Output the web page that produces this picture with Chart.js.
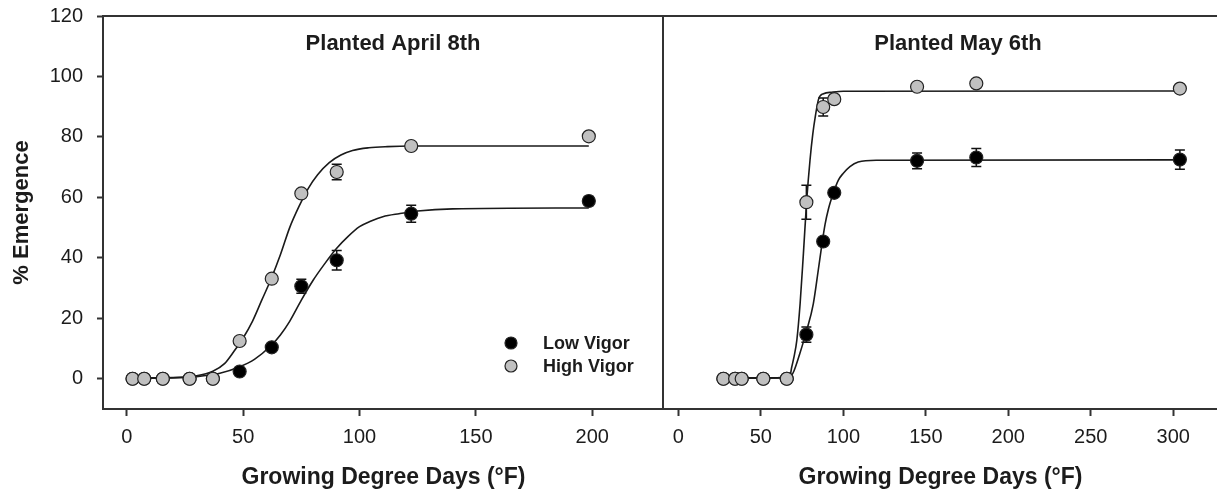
<!DOCTYPE html>
<html>
<head>
<meta charset="utf-8">
<title>% Emergence vs Growing Degree Days</title>
<script src="https://cdn.jsdelivr.net/npm/chart.js@4/dist/chart.umd.min.js"></script>
<style>
  html, body { margin: 0; padding: 0; background: #fff; }
  #wrap { position: relative; width: 1217px; height: 492px; overflow: hidden; }
  #cA { position: absolute; left: 0; top: 0; }
  #cB { position: absolute; left: 664px; top: 0; }
</style>
</head>
<body>
<div id="wrap">
  <canvas id="cA" width="664" height="492"></canvas>
  <canvas id="cB" width="553" height="492"></canvas>
</div>
<script>
const TEXT = '#1c1c1c';
const AXIS = '#333333';
const GREY = '#c0c0c0';
const FONT = '"Liberation Sans", Arial, Helvetica, sans-serif';

const yTicks = [0, 20, 40, 60, 80, 100, 120];
const aprilTicks = [0, 50, 100, 150, 200];
const mayTicks = [0, 50, 100, 150, 200, 250, 300];

// ── Planted April 8th ── observed means (± error)
const aprilDays    = [2.5, 7.5, 15.5, 27, 37, 48.5, 62.3, 75, 90.2, 122.2, 198.5];
const aprilLow     = [0, 0, 0, 0, 0, 2.4, 10.4, 30.6, 39.2, 54.6, 58.8];
const aprilLowErr  = [0, 0, 0, 0, 0, 0.8, 1, 2.3, 3.2, 2.8, 1.5];
const aprilHigh    = [0, 0, 0, 0, 0, 12.5, 33.1, 61.3, 68.4, 77, 80.2];
const aprilHighErr = [0, 0, 0, 0, 0, 0.8, 0.8, 1, 2.6, 0.8, 0.8];

// fitted curves
const aprilLowFitX  = [2.5, 20, 30, 40, 48, 55, 62, 66, 70, 75, 80, 85, 90, 95, 100, 105, 110, 117, 125, 140, 198.5];
const aprilLowFitY  = [0.2, 0.3, 0.7, 1.8, 3.8, 6.5, 11, 14.5, 19, 26, 32.5, 38, 43, 47, 50.3, 52.2, 53.6, 54.6, 55.5, 56.2, 56.5];
const aprilHighFitX = [2.5, 20, 30, 37, 42, 46, 50, 54, 58, 62, 66, 70, 74, 78, 82, 87, 92, 97, 104, 112, 122, 198.5];
const aprilHighFitY = [0.3, 0.4, 1, 2.5, 5, 9, 13.5, 19, 26, 33, 41, 50, 57, 63, 67.5, 71.5, 74, 75.5, 76.4, 76.8, 77, 77];

// ── Planted May 6th ──
const mayDays    = [27.3, 34.4, 38.4, 51.5, 65.7, 77.6, 87.8, 94.5, 144.7, 180.6, 304];
const mayLow     = [0, 0, 0, 0, 0, 14.6, 45.4, 61.5, 72.1, 73.2, 72.5];
const mayLowErr  = [0, 0, 0, 0, 0, 2.5, 1, 1, 2.6, 3, 3.2];
const mayHigh    = [0, 0, 0, 0, 0, 58.4, 89.9, 92.5, 96.6, 97.7, 96];
const mayHighErr = [0, 0, 0, 0, 0, 5.6, 3, 1, 1, 1, 1];

const mayLowFitX  = [27.3, 60, 65, 67.7, 70, 73.6, 77.8, 81.8, 84.8, 86.9, 88.9, 90.9, 94, 97, 100, 104, 109, 120, 304];
const mayLowFitY  = [0.2, 0.3, 0.4, 0.6, 2.5, 8.3, 16, 24.8, 35.9, 44, 51, 56, 61.5, 65.7, 68, 70.2, 71.7, 72.3, 72.4];
const mayHighFitX = [27.3, 60, 65, 67.7, 68.7, 70, 71.8, 73.8, 75.8, 77.8, 79.8, 81.5, 83, 85, 88, 93, 100, 304];
const mayHighFitY = [0.3, 0.3, 0.5, 1.1, 3.8, 7, 12.7, 24.8, 41.4, 59, 72.3, 81, 86.7, 92.5, 94.3, 94.8, 95.1, 95.2];

const pts = (xs, ys) => xs.map((x, i) => ({ x, y: ys[i] }));

Chart.defaults.font.family = FONT;
Chart.defaults.color = TEXT;
Chart.defaults.animation = false;

// keep the plot box exactly where the layout padding puts it
function noPad(s) {
  s.paddingLeft = 0; s.paddingRight = 0; s.paddingTop = 0; s.paddingBottom = 0;
}

// ── error bars, drawn under the markers ─────────────────────────
const errorBars = {
  id: 'errorBars',
  beforeDatasetsDraw(chart) {
    const { ctx } = chart;
    ctx.save();
    ctx.strokeStyle = '#111';
    ctx.lineWidth = 1.5;
    chart.data.datasets.forEach((ds, di) => {
      if (!ds.errors) return;
      const meta = chart.getDatasetMeta(di);
      const xs = chart.scales[meta.xAxisID];
      const ys = chart.scales[meta.yAxisID];
      ds.data.forEach((p, i) => {
        const e = ds.errors[i];
        if (!e) return;
        const x = xs.getPixelForValue(p.x);
        const y1 = ys.getPixelForValue(p.y + e);
        const y2 = ys.getPixelForValue(p.y - e);
        ctx.beginPath();
        ctx.moveTo(x, y1); ctx.lineTo(x, y2);
        ctx.moveTo(x - 5, y1); ctx.lineTo(x + 5, y1);
        ctx.moveTo(x - 5, y2); ctx.lineTo(x + 5, y2);
        ctx.stroke();
      });
    });
    ctx.restore();
  }
};

// ── frame, panel title, legend ──────────────────────────────────
const panel = {
  id: 'panel',
  afterDraw(chart, args, opts) {
    const { ctx, chartArea: a } = chart;
    ctx.save();
    ctx.strokeStyle = AXIS;
    ctx.lineWidth = 2;
    ctx.beginPath();
    ctx.moveTo(a.left - 1, a.top);
    ctx.lineTo(a.right, a.top);
    if (opts.divider) {
      ctx.moveTo(a.right - 1, a.top);
      ctx.lineTo(a.right - 1, a.bottom);
    }
    ctx.stroke();

    ctx.fillStyle = TEXT;
    ctx.font = `bold 22px ${FONT}`;
    ctx.textAlign = 'center';
    ctx.textBaseline = 'middle';
    ctx.fillText(opts.title, opts.titleX, a.top + 28);

    if (opts.legend) {
      const items = chart.data.datasets.filter(d => d.inLegend);
      items.forEach((d, i) => {
        const y = 343 + i * 23;
        ctx.beginPath();
        ctx.arc(511, y, 6, 0, Math.PI * 2);
        ctx.fillStyle = d.backgroundColor;
        ctx.fill();
        ctx.lineWidth = 1.2;
        ctx.strokeStyle = '#222';
        ctx.stroke();
        ctx.fillStyle = TEXT;
        ctx.font = `bold 18px ${FONT}`;
        ctx.textAlign = 'left';
        ctx.fillText(d.label, 543, y + 1);
      });
    }
    ctx.restore();
  }
};

function fitLine(data, xAxisID) {
  return {
    type: 'line', data, xAxisID,
    borderColor: '#1a1a1a', borderWidth: 1.6,
    pointRadius: 0, fill: false,
    cubicInterpolationMode: 'monotone',
    order: 3,
  };
}

function markers(label, data, errors, color, order) {
  return {
    type: 'scatter', label, data, errors,
    backgroundColor: color, borderColor: '#222', borderWidth: 1.2,
    pointRadius: 6.5, showLine: false, inLegend: true, order,
  };
}

function xScale(min, max, ticks) {
  return {
    type: 'linear', min, max,
    afterBuildTicks: s => { s.ticks = ticks.map(v => ({ value: v })); },
    afterFit: s => { s.height = 83; noPad(s); },
    border: { display: true, color: AXIS, width: 2 },
    grid: { drawOnChartArea: false, drawTicks: true, tickLength: 7, tickWidth: 2, tickColor: AXIS, color: AXIS },
    ticks: { font: { size: 20 }, color: TEXT, padding: 9, maxRotation: 0 },
    title: {
      display: true, text: 'Growing Degree Days (°F)',
      font: { size: 23, weight: 'bold' }, color: TEXT,
      padding: { top: 0, bottom: 1 },
    },
  };
}

function yScale(show) {
  return {
    type: 'linear', min: -10, max: 120, display: show,
    afterBuildTicks: s => { s.ticks = yTicks.map(v => ({ value: v })); },
    afterFit: s => { s.width = show ? 103 : 0; noPad(s); },
    border: { display: true, color: AXIS, width: 2 },
    grid: { drawOnChartArea: false, drawTicks: true, tickLength: 6, tickWidth: 2, tickColor: AXIS, color: AXIS },
    ticks: { font: { size: 20 }, color: TEXT, padding: 14 },
    title: {
      display: true, text: '% Emergence',
      font: { size: 22, weight: 'bold' }, color: TEXT,
      padding: { top: 9, bottom: 0 },
    },
  };
}

new Chart(document.getElementById('cA'), {
  data: {
    datasets: [
      fitLine(pts(aprilLowFitX, aprilLowFitY), 'x'),
      fitLine(pts(aprilHighFitX, aprilHighFitY), 'x'),
      markers('Low Vigor', pts(aprilDays, aprilLow), aprilLowErr, '#000000', 2),
      markers('High Vigor', pts(aprilDays, aprilHigh), aprilHighErr, GREY, 1),
    ]
  },
  options: {
    responsive: false,
    layout: { autoPadding: false, padding: { top: 16, left: 0, right: 0, bottom: 0 } },
    plugins: {
      legend: { display: false },
      tooltip: { enabled: false },
      panel: { title: 'Planted April 8th', titleX: 393, divider: true, legend: true },
    },
    scales: { x: xScale(-10.2, 230.8, aprilTicks), y: yScale(true) },
  },
  plugins: [errorBars, panel],
});

new Chart(document.getElementById('cB'), {
  data: {
    datasets: [
      fitLine(pts(mayLowFitX, mayLowFitY), 'x'),
      fitLine(pts(mayHighFitX, mayHighFitY), 'x'),
      markers('Low Vigor', pts(mayDays, mayLow), mayLowErr, '#000000', 2),
      markers('High Vigor', pts(mayDays, mayHigh), mayHighErr, GREY, 1),
    ]
  },
  options: {
    responsive: false,
    layout: { autoPadding: false, padding: { top: 16, left: 0, right: 0, bottom: 0 } },
    plugins: {
      legend: { display: false },
      tooltip: { enabled: false },
      panel: { title: 'Planted May 6th', titleX: 294, divider: false, legend: false },
    },
    scales: { x: xScale(-8.7, 326.5, mayTicks), y: yScale(false) },
  },
  plugins: [errorBars, panel],
});
</script>
</body>
</html>
